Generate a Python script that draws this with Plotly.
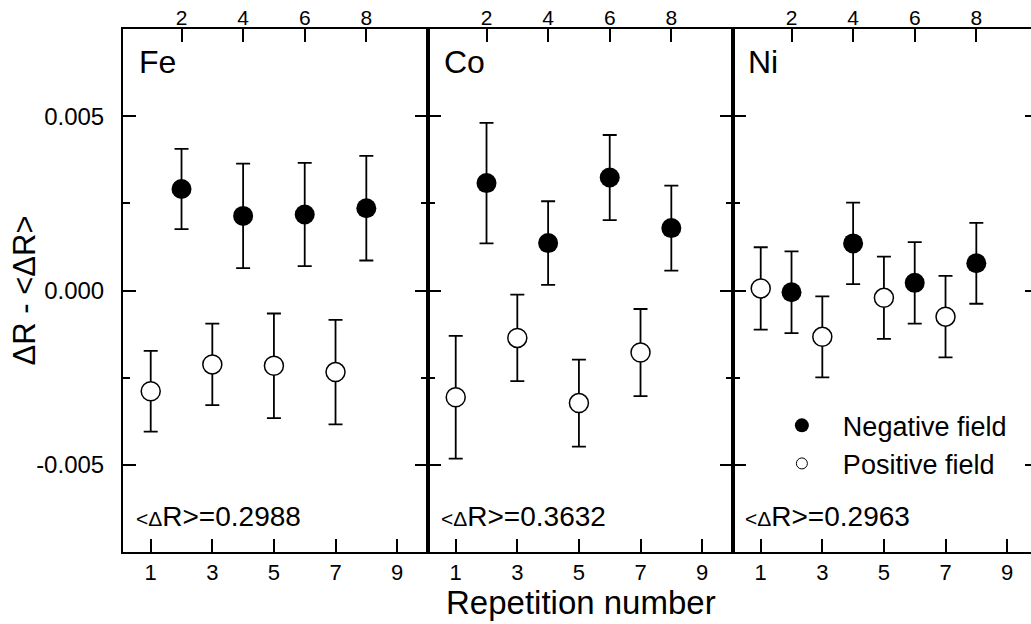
import plotly.graph_objects as go

# ---------------- data ----------------
fe_neg_x = [2, 4, 6, 8]
fe_neg_y = [0.00291, 0.00214, 0.00218, 0.00236]
fe_neg_err = [0.00115, 0.00150, 0.00148, 0.00150]
fe_pos_x = [1, 3, 5, 7]
fe_pos_y = [-0.00289, -0.00212, -0.00216, -0.00234]
fe_pos_err = [0.00116, 0.00117, 0.00150, 0.00150]

co_neg_x = [2, 4, 6, 8]
co_neg_y = [0.00308, 0.00136, 0.00324, 0.00179]
co_neg_err = [0.00173, 0.00120, 0.00122, 0.00122]
co_pos_x = [1, 3, 5, 7]
co_pos_y = [-0.00306, -0.00136, -0.00323, -0.00178]
co_pos_err = [0.00176, 0.00124, 0.00125, 0.00125]

ni_neg_x = [2, 4, 6, 8]
ni_neg_y = [-0.00005, 0.00135, 0.00022, 0.00078]
ni_neg_err = [0.00117, 0.00117, 0.00117, 0.00116]
ni_pos_x = [1, 3, 5, 7]
ni_pos_y = [0.00006, -0.00133, -0.00021, -0.00075]
ni_pos_err = [0.00118, 0.00116, 0.00118, 0.00117]

panel_labels = ["Fe", "Co", "Ni"]
mean_labels = ["0.2988", "0.3632", "0.2963"]
bottom_ticks = [1, 3, 5, 7, 9]
top_ticks = [2, 4, 6, 8]
y_ticks = [-0.005, 0.0, 0.005]
y_ticktext = ["-0.005", "0.000", "0.005"]
y_minor = [-0.0025, 0.0025]

FONT = "Liberation Sans, Arial, sans-serif"

panels = [
    (fe_neg_x, fe_neg_y, fe_neg_err, fe_pos_x, fe_pos_y, fe_pos_err),
    (co_neg_x, co_neg_y, co_neg_err, co_pos_x, co_pos_y, co_pos_err),
    (ni_neg_x, ni_neg_y, ni_neg_err, ni_pos_x, ni_pos_y, ni_pos_err),
]

W, H = 1031, 624
ML, MR, MT, MB = 123, 0, 29, 72
plot_w = W - ML - MR
px_per_unit = 30.8
panel_px = [305, 305, plot_w - 610]
domains = []
start = 0.0
for p in panel_px:
    domains.append([start / plot_w, min((start + p) / plot_w, 1.0)])
    start += p
x_ranges = [[0.1, 0.1 + p / px_per_unit] for p in panel_px]
y_range = [-0.0075, 0.0075]

fig = go.Figure()

err_style = dict(type="data", color="black", thickness=1.8, width=7)

for i, (nx, ny, ne, px_, py_, pe) in enumerate(panels):
    xa = "x" if i == 0 else f"x{i+1}"
    ya = "y" if i == 0 else f"y{i+1}"
    fig.add_trace(go.Scatter(
        x=px_, y=py_, mode="markers", xaxis=xa, yaxis=ya,
        error_y=dict(array=pe, **err_style),
        marker=dict(symbol="circle", size=19, color="white",
                    line=dict(color="black", width=1.5)),
        showlegend=False, hoverinfo="skip"))
    fig.add_trace(go.Scatter(
        x=nx, y=ny, mode="markers", xaxis=xa, yaxis=ya,
        error_y=dict(array=ne, **err_style),
        marker=dict(symbol="circle", size=20, color="black",
                    line=dict(color="black", width=0)),
        showlegend=False, hoverinfo="skip"))

# invisible traces so that top axes exist
for i in range(3):
    fig.add_trace(go.Scatter(x=[None], y=[None], xaxis=f"x{i+4}",
                             yaxis="y" if i == 0 else f"y{i+1}",
                             showlegend=False, hoverinfo="skip"))

# legend entries
fig.add_trace(go.Scatter(x=[None], y=[None], mode="markers", name="Negative field",
                         xaxis="x3", yaxis="y3",
                         marker=dict(symbol="circle", size=14, color="black")))
fig.add_trace(go.Scatter(x=[None], y=[None], mode="markers", name="Positive field",
                         xaxis="x3", yaxis="y3",
                         marker=dict(symbol="circle", size=11, color="white",
                                     line=dict(color="black", width=1))))

layout = dict(
    width=W, height=H,
    margin=dict(l=ML, r=MR, t=MT, b=MB, pad=0),
    paper_bgcolor="white", plot_bgcolor="white",
    font=dict(family=FONT, color="black"),
    showlegend=True,
    legend=dict(x=0.7025, y=0.205, xanchor="left", yanchor="middle",
                font=dict(size=27, family=FONT, color="black"),
                bgcolor="rgba(0,0,0,0)", itemwidth=72, tracegroupgap=0),
)

common_x = dict(showgrid=False, zeroline=False, showline=True, linecolor="black",
                linewidth=2, ticks="inside", ticklen=13, tickwidth=2, tickcolor="black")

for i in range(3):
    sfx = "" if i == 0 else str(i + 1)
    ysfx = "" if i == 0 else str(i + 1)
    layout[f"xaxis{sfx}"] = dict(
        domain=domains[i], range=x_ranges[i], anchor=f"y{ysfx}",
        tickmode="array", tickvals=bottom_ticks, ticktext=[str(t) for t in bottom_ticks],
        tickfont=dict(size=22, family=FONT, color="black"), ticklabelstandoff=0,
        **common_x)
    layout[f"xaxis{i+4}"] = dict(
        range=x_ranges[i], overlaying=f"x{sfx}" if sfx else "x", anchor=f"y{ysfx}",
        side="top", tickmode="array", tickvals=top_ticks,
        ticktext=[str(t) for t in top_ticks],
        tickfont=dict(size=21, family=FONT, color="black"), ticklabelstandoff=-6,
        **common_x)
    layout[f"yaxis{ysfx}"] = dict(
        domain=[0, 1], range=y_range, anchor=f"x{sfx}",
        showgrid=False, zeroline=False, showline=True, linecolor="black", linewidth=2,
        mirror="ticks" if i < 2 else False,
        ticks="inside", ticklen=13, tickwidth=2, tickcolor="black",
        tickmode="array", tickvals=y_ticks, ticktext=y_ticktext,
        showticklabels=(i == 0),
        tickfont=dict(size=24, family=FONT, color="black"), ticklabelstandoff=12,
        minor=dict(tickmode="array", tickvals=y_minor, ticks="inside", ticklen=7,
                   tickwidth=2, tickcolor="black", showgrid=False),
    )

# right-side ticks of the last panel (its frame is cut by the image edge)
layout["yaxis4"] = dict(
    range=y_range, overlaying="y3", anchor="x3", side="right",
    showgrid=False, zeroline=False, showline=False,
    ticks="inside", ticklen=6, tickwidth=2, tickcolor="black",
    tickmode="array", tickvals=y_ticks, showticklabels=False)
fig.add_trace(go.Scatter(x=[None], y=[None], xaxis="x3", yaxis="y4",
                         showlegend=False, hoverinfo="skip"))

fig.update_layout(**layout)

annotations = []
for i in range(3):
    sfx = "" if i == 0 else str(i + 1)
    annotations.append(dict(
        text=panel_labels[i], xref=f"x{sfx} domain", yref="paper",
        x=0.045, y=0.937, xanchor="left", yanchor="middle", showarrow=False,
        font=dict(size=32, family=FONT, color="black")))
    annotations.append(dict(
        text="<span style='font-size:21px'>&lt;Δ</span>R>=" + mean_labels[i],
        xref=f"x{sfx} domain", yref="paper",
        x=0.035, y=0.068, xanchor="left", yanchor="middle", showarrow=False,
        font=dict(size=28, family=FONT, color="black")))

annotations.append(dict(
    text="Repetition number", xref="x2 domain", yref="paper",
    x=0.5, y=-0.058, xanchor="center", yanchor="top", showarrow=False,
    font=dict(size=33, family=FONT, color="black")))
annotations.append(dict(
    text="ΔR - &lt;ΔR>", xref="paper", yref="paper",
    x=-0.108, y=0.5, xanchor="center", yanchor="middle", showarrow=False,
    textangle=-90, font=dict(size=31, family=FONT, color="black")))

fig.update_layout(annotations=annotations)

fig.write_html("out.html", config={"displayModeBar": False},
               post_script="document.body.style.margin='0';document.body.style.padding='0';")
